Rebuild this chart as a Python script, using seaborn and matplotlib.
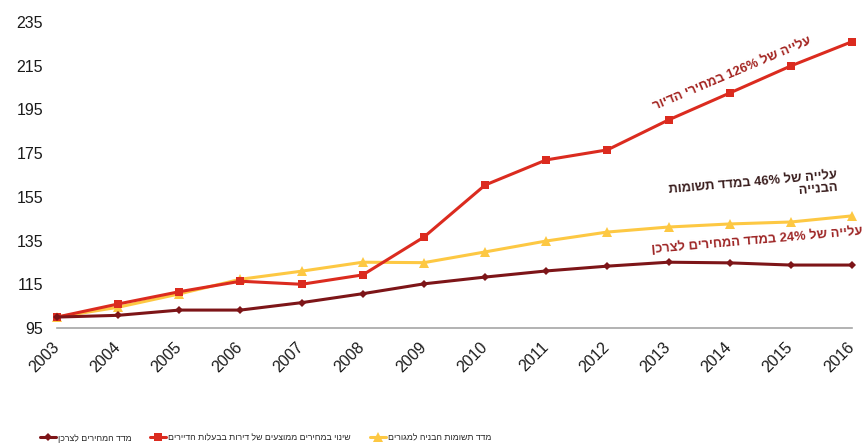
import re
import matplotlib
matplotlib.use("Agg")
import matplotlib.pyplot as plt
import seaborn as sns
import pandas as pd
from matplotlib.transforms import ScaledTranslation

years = list(range(2003, 2017))
cpi = [100, 100.8, 103.2, 103.2, 106.6, 110.7, 115.2, 118.3, 121.1, 123.3, 125.1, 124.8, 123.8, 123.8]
housing = [100, 106, 111.6, 116.4, 115, 119.3, 136.6, 160.4, 171.9, 176.5, 190.2, 202.5, 214.9, 226]
construction = [100, 104.5, 110.6, 117.3, 121, 125.1, 124.9, 129.8, 134.8, 138.9, 141.2, 142.6, 143.5, 146.3]
y_ticks = [95, 115, 135, 155, 175, 195, 215, 235]

name_cpi = "מדד המחירים לצרכן"
name_housing = "שינוי במחירים ממוצעים של דירות בבעלות הדיירים"
name_construction = "מדד תשומות הבניה למגורים"
note_housing = "עלייה של 126% במחירי הדיור"
note_construction = "עלייה של 46% במדד תשומות\nהבנייה"
note_cpi = "עלייה של 24% במדד המחירים לצרכן"


def rtl(text):
    """Reorder Hebrew text for left-to-right glyph layout, keeping numbers intact."""
    lines = []
    for line in text.split("\n"):
        rev = line[::-1]
        lines.append(re.sub(r"[0-9%.]+", lambda m: m.group(0)[::-1], rev))
    return "\n".join(lines)


sns.set_style("white")
plt.rcParams["font.family"] = ["Liberation Sans", "DejaVu Sans"]

df = pd.DataFrame({"year": years, "cpi": cpi, "housing": housing, "construction": construction})

fig = plt.figure(figsize=(8.65, 4.48), dpi=100)
ax = fig.add_axes([57 / 865, 1 - 328 / 448, (852 - 57) / 865, (328 - 22) / 448])

c_cpi = "#7D1518"
c_housing = "#DB2B1F"
c_constr = "#FDC843"

sns.lineplot(data=df, x="year", y="construction", ax=ax, color=c_constr, lw=2.2,
             marker="^", markersize=7, markeredgewidth=0, label=rtl(name_construction), clip_on=False)
sns.lineplot(data=df, x="year", y="housing", ax=ax, color=c_housing, lw=2.2,
             marker="s", markersize=6, markeredgewidth=0, label=rtl(name_housing), clip_on=False)
sns.lineplot(data=df, x="year", y="cpi", ax=ax, color=c_cpi, lw=2.2,
             marker="D", markersize=4, markeredgewidth=0, label=rtl(name_cpi), clip_on=False)

ax.set_xlim(2003, 2016)
ax.set_ylim(95, 235)
ax.set_yticks(y_ticks)
ax.set_xticks(years)
ax.set_xlabel("")
ax.set_ylabel("")
for s in ["top", "right", "left"]:
    ax.spines[s].set_visible(False)
ax.spines["bottom"].set_color("#A6A6A6")
ax.spines["bottom"].set_linewidth(1.2)
ax.tick_params(axis="y", length=0, pad=10, labelsize=11.5, labelcolor="#1A1A1A")
ax.tick_params(axis="x", length=6, width=1.2, color="#A6A6A6", pad=2, labelsize=11.5, labelcolor="#1A1A1A")
ax.set_xticklabels([str(y) for y in years], rotation=45, ha="right", va="top")
offset = ScaledTranslation(5 / 100, 0, fig.dpi_scale_trans)
for lab in ax.get_xticklabels():
    lab.set_transform(lab.get_transform() + offset)

# annotations
note_size = 9.3
fig.text(732 / 865, 1 - 74 / 448, rtl(note_housing), rotation=23, ha="center", va="center",
         fontsize=note_size, fontweight="bold", color="#A3231F", rotation_mode="anchor")
fig.text(753 / 865, 1 - 189 / 448, rtl(note_construction), rotation=5, ha="center", va="center",
         multialignment="right", fontsize=note_size, fontweight="bold", color="#3A1E1E",
         rotation_mode="anchor", linespacing=1.05)
fig.text(757 / 865, 1 - 241 / 448, rtl(note_cpi), rotation=5, ha="center", va="center",
         fontsize=note_size, fontweight="bold", color="#9E2626", rotation_mode="anchor")

# legend along the bottom, one entry per slot, consumer prices first
handles, labels = ax.get_legend_handles_labels()
ax.legend_.remove()
slots = [(2, 40), (1, 150), (0, 370)]
for idx, x_px in slots:
    fig.legend([handles[idx]], [labels[idx]], loc="center left",
               bbox_to_anchor=(x_px / 865, 1 - 438 / 448), borderpad=0, borderaxespad=0,
               frameon=False, handlelength=1.8, handletextpad=0.25,
               prop={"family": ["Liberation Sans", "DejaVu Sans"], "size": 6.3},
               labelcolor="#262626")

fig.savefig("out.png", dpi=100)
